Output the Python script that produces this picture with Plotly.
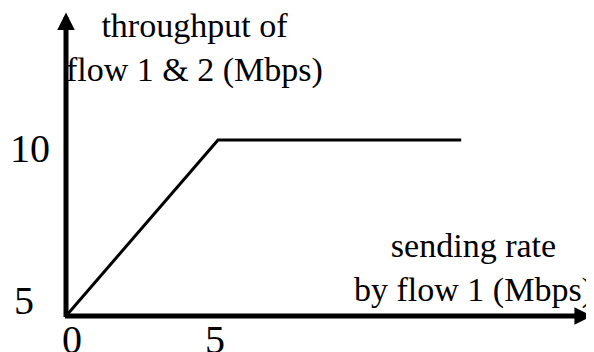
import plotly.graph_objects as go

# data
rate_x = [0, 5, 13]          # sending rate by flow 1 (Mbps)
thr_y = [5, 10, 10]          # throughput of flow 1 & 2 (Mbps)
xtick_vals = [0, 5]
xtick_text = ["0", "5"]
ytick_vals = [5, 10]
ytick_text = ["5", "10"]
x_axis_end = 17.3
y_axis_end = 13.62

FONT = "Liberation Serif, Times New Roman, serif"

# page has an 8px default body margin -> figure is 8px smaller
W, H = 586, 344
OFF = 8


def px(X, Y):
    """page pixel -> paper coords"""
    return (X - OFF) / W, 1 - (Y - OFF) / H


fig = go.Figure()
fig.add_trace(go.Scatter(x=rate_x, y=thr_y, mode="lines",
                         line=dict(color="black", width=3), hoverinfo="skip",
                         showlegend=False))

ann = []
# axis arrows
ann.append(dict(x=x_axis_end, y=ytick_vals[0], ax=xtick_vals[0] - 0.08, ay=ytick_vals[0],
                xref="x", yref="y", axref="x", ayref="y", text="", showarrow=True,
                arrowhead=2, arrowsize=0.7, arrowwidth=5, arrowcolor="black"))
ann.append(dict(x=xtick_vals[0], y=y_axis_end, ax=xtick_vals[0], ay=ytick_vals[0] - 0.07,
                xref="x", yref="y", axref="x", ayref="y", text="", showarrow=True,
                arrowhead=2, arrowsize=0.7, arrowwidth=5, arrowcolor="black"))
# tick labels
for v, t in zip(xtick_vals, xtick_text):
    ann.append(dict(x=v, y=ytick_vals[0], xref="x", yref="y", text=t, showarrow=False,
                    xanchor="center", yanchor="middle", xshift=6 if v == 0 else -3,
                    yshift=-23, font=dict(family=FONT, size=40, color="black")))
for v, t in zip(ytick_vals, ytick_text):
    ann.append(dict(x=xtick_vals[0], y=v, xref="x", yref="y", text=t, showarrow=False,
                    xanchor="center", yanchor="middle",
                    xshift=-42.5 if v == ytick_vals[0] else -36.5,
                    yshift=16 if v == ytick_vals[0] else -8,
                    font=dict(family=FONT, size=40, color="black")))
# axis titles
tx, ty = px(194, 5)
ann.append(dict(x=tx, y=ty, xref="paper", yref="paper",
                text="throughput of<br>flow 1 & 2 (Mbps)", showarrow=False,
                xanchor="center", yanchor="top", align="center",
                font=dict(family=FONT, size=34, color="black")))
sx, sy = px(474, 311)
ann.append(dict(x=sx, y=sy, xref="paper", yref="paper",
                text="sending rate<br>by flow 1 (Mbps)", showarrow=False,
                xanchor="center", yanchor="bottom", align="center",
                font=dict(family=FONT, size=34, color="black")))

# axis ranges: origin (0,5) at page (66,316); 30.4 px per x unit, 35.2 px per y unit
x0 = -(66 - OFF) / 30.4
y1 = 5 + (316 - OFF) / 35.2
fig.update_layout(
    width=W, height=H,
    margin=dict(l=0, r=0, t=0, b=0),
    paper_bgcolor="white", plot_bgcolor="white",
    xaxis=dict(range=[x0, x0 + W / 30.4], visible=False, fixedrange=True),
    yaxis=dict(range=[y1 - H / 35.2, y1], visible=False, fixedrange=True),
    annotations=ann,
)
fig.write_html("out.html")
